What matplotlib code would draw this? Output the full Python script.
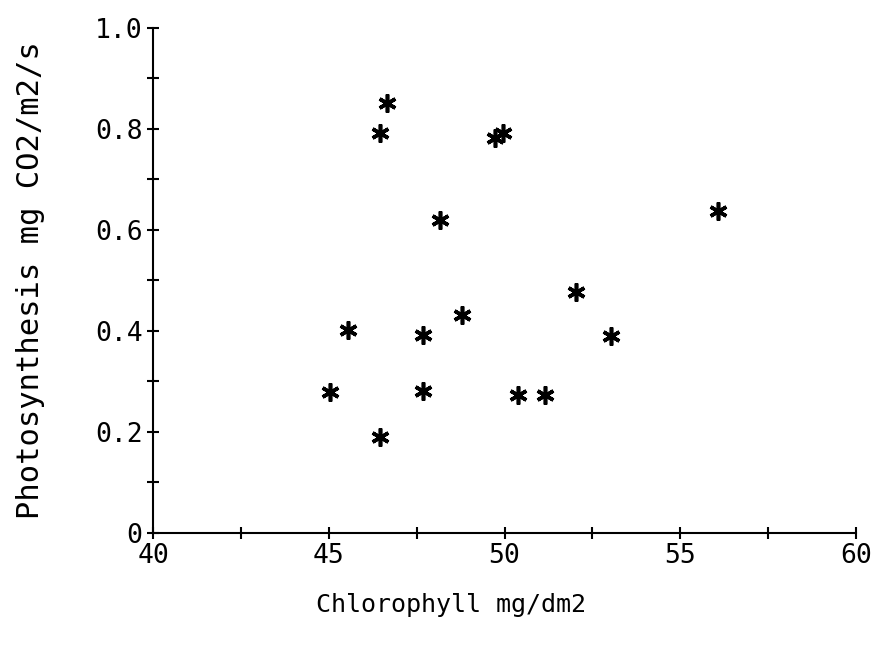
import numpy as np
import matplotlib
matplotlib.use("Agg")
import matplotlib.pyplot as plt
from matplotlib.ticker import MultipleLocator

# chlorophyll (mg/dm2) vs photosynthesis (mg CO2/m2/s)
chlorophyll = [45.04, 45.55, 46.46, 46.66, 46.46, 47.68, 47.68, 48.17,
               48.79, 49.73, 49.96, 50.38, 51.15, 52.03, 53.03, 56.07]
photosynthesis = [0.279, 0.402, 0.792, 0.851, 0.190, 0.392, 0.281, 0.620,
                  0.432, 0.782, 0.792, 0.273, 0.273, 0.477, 0.390, 0.638]

x_ticks = [40, 45, 50, 55, 60]
y_ticks = [0, 0.2, 0.4, 0.6, 0.8, 1.0]
y_tick_labels = ["0", "0.2", "0.4", "0.6", "0.8", "1.0"]

plt.rcParams['font.family'] = ['DejaVu Sans Mono']

fig = plt.figure(figsize=(8.75, 6.51), dpi=100)
ax = fig.add_axes([0.1749, 0.1813, 0.8034, 0.7757])

ax.plot(chlorophyll, photosynthesis, linestyle='none', marker=(6, 2, 0),
        markersize=13, markeredgewidth=2.6, color='black')

ax.set_xlim(40, 60)
ax.set_ylim(0, 1.0)
ax.set_xticks(x_ticks)
ax.set_xticklabels([str(v) for v in x_ticks])
ax.set_yticks(y_ticks)
ax.set_yticklabels(y_tick_labels)
ax.xaxis.set_minor_locator(MultipleLocator(2.5))
ax.yaxis.set_minor_locator(MultipleLocator(0.1))

for side in ['top', 'right']:
    ax.spines[side].set_visible(False)
for side in ['left', 'bottom']:
    ax.spines[side].set_linewidth(1.5)

ax.tick_params(which='both', direction='inout', length=9, width=1.5,
               labelsize=19, pad=3)

# labels sit where the old plotter put them, x label is left of centre
ax.set_xlabel("Chlorophyll mg/dm2", fontsize=18)
ax.xaxis.set_label_coords(0.424, -0.118)
ax.set_ylabel("Photosynthesis mg CO2/m2/s", fontsize=22)
ax.yaxis.set_label_coords(-0.154, 0.5)

fig.savefig("out.png", dpi=100)
